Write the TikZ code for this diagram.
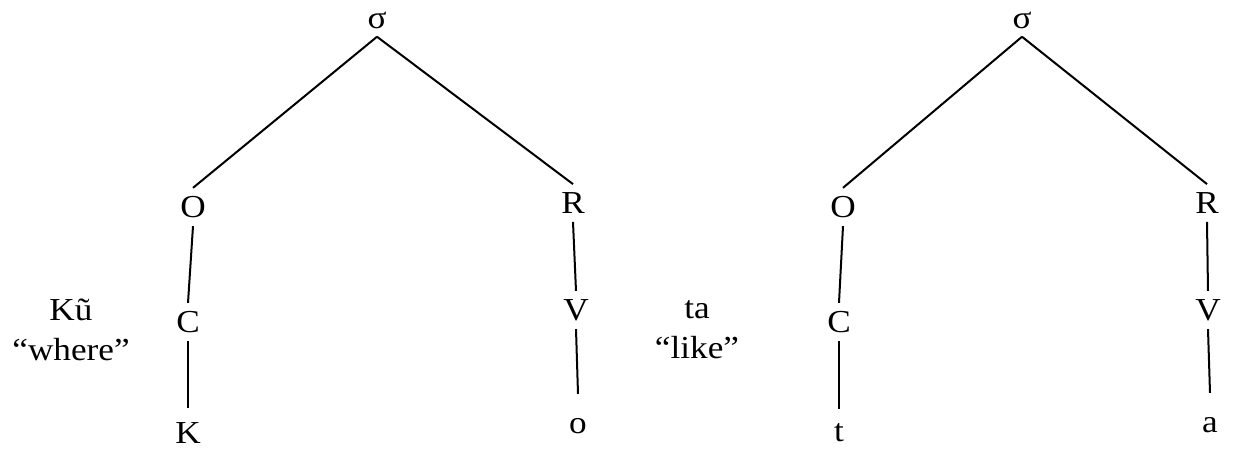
\documentclass[tikz,border=0pt]{standalone}
\usepackage{fontspec}
\setmainfont{Liberation Serif}[FakeStretch=1.1]
\usepackage{tikz}

\begin{document}
\begin{tikzpicture}[x=0.5pt,y=-0.5pt]
\tikzset{vertex/.style = {inner sep=4pt,font=\fontsize{16}{19}\selectfont}}
\tikzset{leaf/.style = {vertex,inner ysep=#1},leaf/.default=7pt}
\tikzset{gloss/.style = {align=center,font=\fontsize{16}{20}\selectfont}}
\tikzset{edge/.style = {line width=1pt}}
\useasboundingbox (0,0) rectangle (1233,449);
% first tree: Kũ
\node[vertex] (s1) at (377,20)  {σ};
\node[vertex] (o1) at (193,207) {O};
\node[vertex] (r1) at (573,203) {R};
\node[vertex] (c1) at (188,322) {C};
\node[vertex] (v1) at (576,310) {V};
\node[leaf]      (k1) at (188,433) {K};
\node[leaf=12pt] (w1) at (578,426) {o};
\node[gloss] (g1) at (71,330) {Kũ\\“where”};
% second tree: ta
\node[vertex] (s2) at (1022,20)  {σ};
\node[vertex] (o2) at (843,207)  {O};
\node[vertex] (r2) at (1207,203) {R};
\node[vertex] (c2) at (839,322)  {C};
\node[vertex] (v2) at (1208,310) {V};
\node[leaf]      (k2) at (839,433)  {t};
\node[leaf=12pt] (w2) at (1210,425) {a};
\node[gloss] (g2) at (697,330) {ta\\“like”};
%edges
\draw[edge] (s1.south) to (o1.north);
\draw[edge] (s1.south) to (r1.north);
\draw[edge] (o1.south) to (c1.north);
\draw[edge] (c1.south) to (k1.north);
\draw[edge] (r1.south) to (v1.north);
\draw[edge] (v1.south) to (w1.north);
\draw[edge] (s2.south) to (o2.north);
\draw[edge] (s2.south) to (r2.north);
\draw[edge] (o2.south) to (c2.north);
\draw[edge] (c2.south) to (k2.north);
\draw[edge] (r2.south) to (v2.north);
\draw[edge] (v2.south) to (w2.north);
\end{tikzpicture}
\end{document}
